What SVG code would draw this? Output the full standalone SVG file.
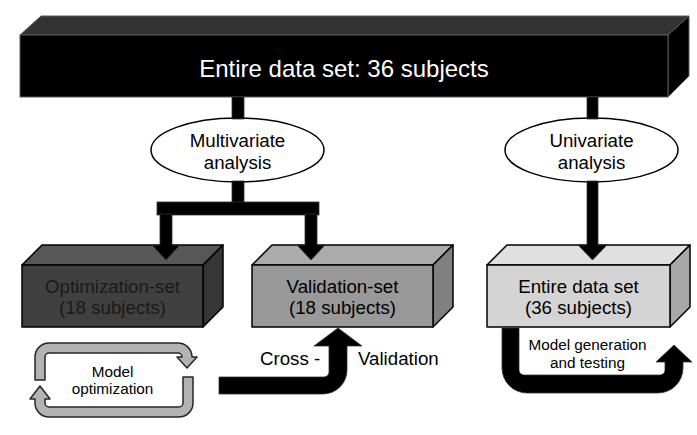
<svg xmlns="http://www.w3.org/2000/svg" width="697" height="435" viewBox="0 0 697 435">
<style>
text{font-family:"Liberation Sans",Arial,sans-serif;fill:#000;text-anchor:middle}
.t{font-size:18.7px}
.s{font-size:15.3px}
.box{stroke:#000;stroke-width:1.5;stroke-linejoin:round}
.conn{fill:#000;stroke:#333;stroke-width:0.8}
.cyc{fill:#b3b3b3;stroke:#262626;stroke-width:1.5;stroke-linejoin:round}
.ell{fill:#fff;stroke:#000;stroke-width:1.5}
</style>
<rect width="697" height="435" fill="#fff"/>
<g id="entire-top">
<polygon points="20,35 41,16 689,16 668,35" fill="#333" stroke="#595959" stroke-width="1"/>
<polygon points="668,35 689,16 689,76 668,97" fill="#000" stroke="#595959" stroke-width="1"/>
<rect x="20" y="35" width="648" height="62" fill="#000" stroke="#595959" stroke-width="1"/>
<text x="344" y="77" style="font-size:24px;fill:#fff">Entire data set: 36 subjects</text>
</g>
<g id="multivariate">
<ellipse class="ell" cx="237.5" cy="150" rx="86.5" ry="32"/>
<text class="t" x="237.5" y="147">Multivariate</text>
<text class="t" x="237.5" y="169">analysis</text>
</g>
<g id="univariate">
<ellipse class="ell" cx="591.5" cy="150" rx="86.5" ry="32"/>
<text class="t" x="591.5" y="147">Univariate</text>
<text class="t" x="591.5" y="169">analysis</text>
</g>
<g id="optimization-set">
<polygon class="box" points="22,265 42,245 223,245 203,265" fill="#575757"/>
<polygon class="box" points="203,265 223,245 223,307 203,327" fill="#363636"/>
<rect class="box" x="22" y="265" width="181" height="62" fill="#404040"/>
<text class="t" x="112.5" y="293" style="fill:#1a1a1a">Optimization-set</text>
<text class="t" x="112.5" y="314" style="fill:#1a1a1a">(18 subjects)</text>
</g>
<g id="validation-set">
<polygon class="box" points="252,265 272,245 453,245 433,265" fill="#ababab"/>
<polygon class="box" points="433,265 453,245 453,307 433,327" fill="#808080"/>
<rect class="box" x="252" y="265" width="181" height="62" fill="#999"/>
<text class="t" x="342.5" y="293">Validation-set</text>
<text class="t" x="342.5" y="314">(18 subjects)</text>
</g>
<g id="entire-data-set">
<polygon class="box" points="487,265 507,245 690,245 670,265" fill="#e0e0e0"/>
<polygon class="box" points="670,265 690,245 690,307 670,327" fill="#a8a8a8"/>
<rect class="box" x="487" y="265" width="183" height="62" fill="#d4d4d4"/>
<text class="t" x="578.5" y="293">Entire data set</text>
<text class="t" x="578.5" y="314">(36 subjects)</text>
</g>
<g id="model-optimization">
<text class="s" x="112.5" y="377">Model</text>
<text class="s" x="112.5" y="394">optimization</text>
</g>
<g id="cross-validation">
<text class="t" x="260" y="365" style="text-anchor:start">Cross -</text>
<text class="t" x="358" y="365" style="text-anchor:start">Validation</text>
</g>
<g id="model-generation">
<text class="s" x="587.5" y="350">Model generation</text>
<text class="s" x="587.5" y="368">and testing</text>
</g>
<g id="connectors">
<rect class="conn" x="232" y="97" width="12" height="22"/>
<rect class="conn" x="232" y="181" width="12" height="22"/>
<rect class="conn" x="157" y="202" width="162" height="13"/>
<path class="conn" d="M160,214 H172 V245 H180 L166,260 L152,245 H160 Z"/>
<path class="conn" d="M305,214 H317 V245 H325 L311,260 L297,245 H305 Z"/>
<rect class="conn" x="587" y="97" width="11" height="22"/>
<path class="conn" d="M587,181 H598 V245 H607 L592.5,260 L578,245 H587 Z"/>
<path class="conn" d="M219,377 H324 A5,5 0 0 0 329,372 V346 H314 L338,328 L362,346 H347 V370 A24,24 0 0 1 323,394 H219 Z"/>
<path class="conn" d="M502,328 H519 V370 A5,5 0 0 0 524,375 H660 A5,5 0 0 0 665,370 V362 H656 L674,345 L692,362 H683 V368 A25,25 0 0 1 658,393 H527 A25,25 0 0 1 502,368 Z"/>
<path class="cyc" d="M35,380 V357 A14,14 0 0 1 49,343 H178 A14,14 0 0 1 192,357 H197 L187,368 L177,357 H182 A4,4 0 0 0 178,353 H49 A4,4 0 0 0 45,357 V380 Z"/>
<path class="cyc" d="M183,377 H193 V403 A14,14 0 0 1 179,417 H49 A14,14 0 0 1 35,403 V399 H30 L40,386 L50,399 H45 V403 A4,4 0 0 0 49,407 H179 A4,4 0 0 0 183,403 Z"/>
</g>
</svg>
